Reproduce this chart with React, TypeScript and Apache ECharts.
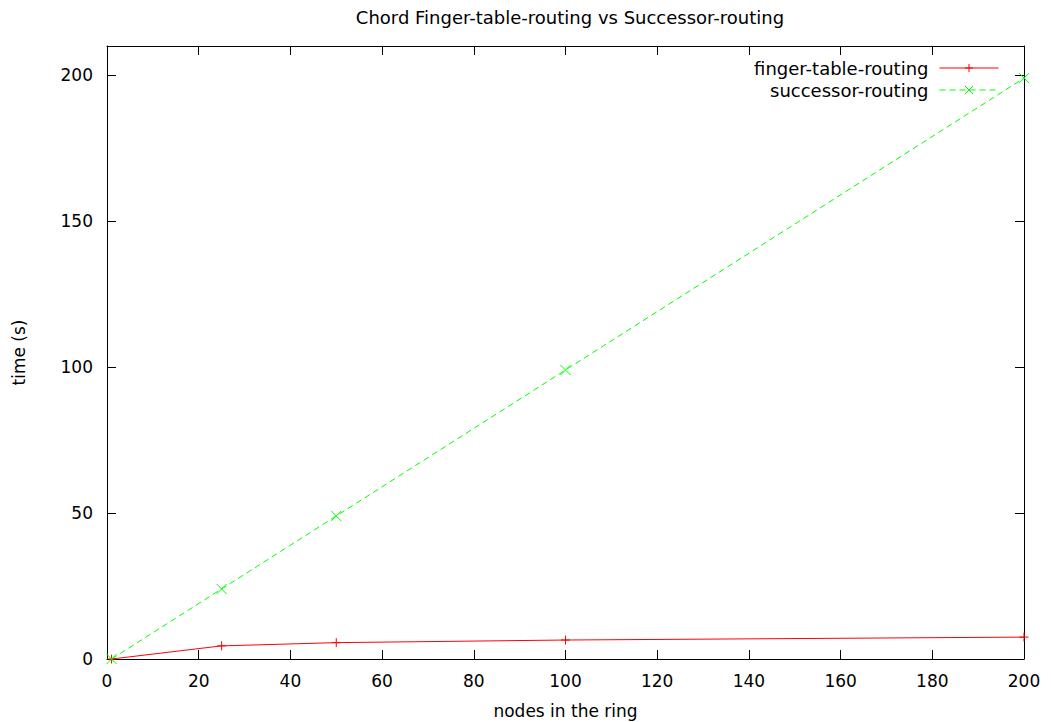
import React, { useEffect, useRef } from "react";
import * as echarts from "echarts";

const nodes = [1, 25, 50, 100, 200];
const fingerTable = [0, 4.5, 5.6, 6.5, 7.5];
const successor = [0, 24, 49, 99, 199];
const xTicks = [0, 20, 40, 60, 80, 100, 120, 140, 160, 180, 200];
const yTicks = [0, 50, 100, 150, 200];

const FONT = "DejaVu Sans";
const FS = 17;
const RED = "#ff0000";
const GREEN = "#00ff00";

export default function App() {
  const ref = useRef<HTMLDivElement>(null);
  useEffect(() => {
    if (!ref.current) return;
    const chart = echarts.init(ref.current, undefined, { renderer: "svg" });
    const axisLine = { show: true, onZero: false, lineStyle: { color: "#000", width: 1 } };
    const tick = { show: true, inside: true, length: 9, lineStyle: { color: "#000", width: 1 } };
    const plus = "path://M0,-5L0,5M-5,0L5,0";
    const cross = "path://M-5,-5L5,5M-5,5L5,-5";
    chart.setOption({
      animation: false,
      backgroundColor: "#fff",
      title: {
        text: "Chord Finger-table-routing vs Successor-routing",
        left: 565,
        textAlign: "center",
        top: 3,
        textStyle: { fontFamily: FONT, fontSize: 18, fontWeight: "normal", color: "#000" },
      },
      legend: {
        orient: "vertical",
        right: 47,
        top: 54,
        align: "right",
        itemWidth: 59,
        itemHeight: 10,
        itemGap: 4,
        textStyle: { fontFamily: FONT, fontSize: 18, color: "#000", padding: [0, 6, 0, 0] },
        data: [
          {
            name: "finger-table-routing",
            lineStyle: { color: RED, width: 1 },
            itemStyle: { color: RED, borderColor: RED, borderWidth: 1 },
          },
          {
            name: "successor-routing",
            lineStyle: { color: GREEN, width: 1, type: [6, 4] },
            itemStyle: { color: GREEN, borderColor: GREEN, borderWidth: 1 },
          },
        ],
      },
      grid: { left: 107, right: 27, top: 46, bottom: 63, containLabel: false, outerBoundsMode: "none" },
      xAxis: [
        {
          type: "value",
          min: 0,
          max: 200,
          interval: 20,
          name: "nodes in the ring",
          nameLocation: "middle",
          nameGap: 43,
          nameTextStyle: { fontFamily: FONT, fontSize: FS, color: "#000" },
          axisLine,
          splitLine: { show: false },
          axisTick: { ...tick, customValues: xTicks },
          axisLabel: { customValues: xTicks, fontFamily: FONT, fontSize: FS, color: "#000", margin: 13 },
        },
        {
          type: "value",
          position: "top",
          min: 0,
          max: 200,
          interval: 20,
          axisLine,
          splitLine: { show: false },
          axisTick: { ...tick, customValues: xTicks },
          axisLabel: { show: false },
        },
      ],
      yAxis: [
        {
          type: "value",
          min: 0,
          max: 210,
          interval: 50,
          name: "time (s)",
          nameLocation: "middle",
          nameGap: 80,
          nameRotate: 90,
          nameTextStyle: { fontFamily: FONT, fontSize: FS, color: "#000" },
          axisLine,
          splitLine: { show: false },
          axisTick: { ...tick, customValues: yTicks },
          axisLabel: { customValues: yTicks, fontFamily: FONT, fontSize: FS, color: "#000", margin: 14 },
        },
        {
          type: "value",
          position: "right",
          min: 0,
          max: 210,
          interval: 50,
          axisLine,
          splitLine: { show: false },
          axisTick: { ...tick, customValues: yTicks },
          axisLabel: { show: false },
        },
      ],
      series: [
        {
          name: "finger-table-routing",
          type: "line",
          xAxisIndex: 0,
          yAxisIndex: 0,
          data: nodes.map((n, i) => [n, fingerTable[i]]),
          symbol: plus,
          symbolSize: 9,
          color: RED,
          lineStyle: { color: RED, width: 1 },
          itemStyle: { color: RED, borderColor: RED, borderWidth: 1 },
        },
        {
          name: "successor-routing",
          type: "line",
          xAxisIndex: 0,
          yAxisIndex: 0,
          data: nodes.map((n, i) => [n, successor[i]]),
          symbol: cross,
          symbolSize: 10,
          color: GREEN,
          lineStyle: { color: GREEN, width: 1, type: [6, 4] },
          itemStyle: { color: GREEN, borderColor: GREEN, borderWidth: 1 },
        },
      ],
    });
    return () => chart.dispose();
  }, []);
  return (
    <div
      ref={ref}
      style={{ position: "fixed", left: 0, top: 0, width: 1051, height: 722 }}
    />
  );
}
